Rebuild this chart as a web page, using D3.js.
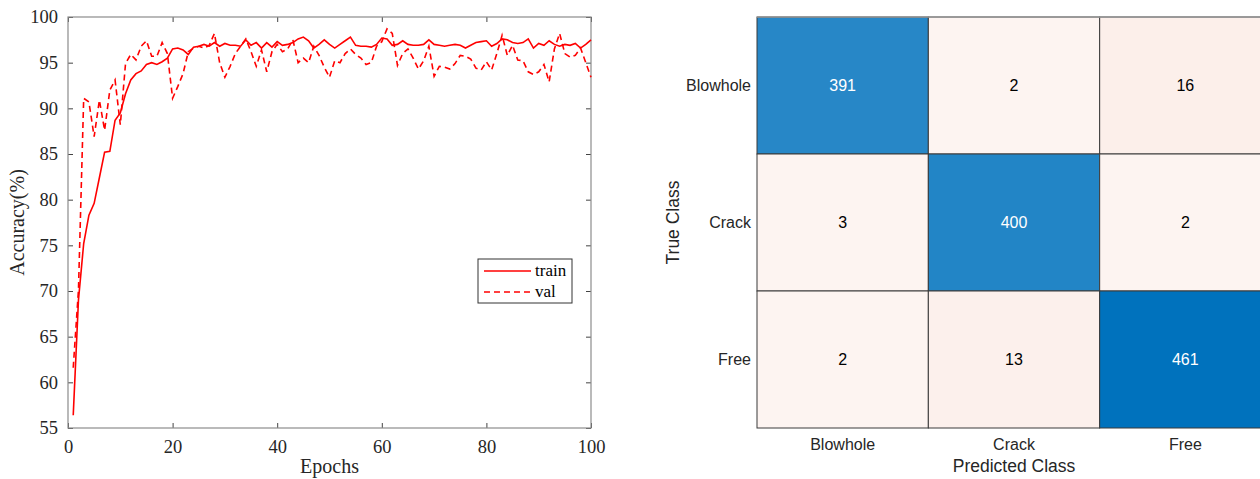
<!DOCTYPE html>
<html>
<head>
<meta charset="utf-8">
<script src="https://cdn.jsdelivr.net/npm/d3@7"></script>
<style>
  body { margin: 0; background: #fff; }
  svg { display: block; }
</style>
</head>
<body>
<svg id="chart" width="1260" height="479"></svg>
<script>
// training curve, epochs 1..100
const trainAcc = [
  56.4, 69.0, 75.2, 78.3, 79.6, 82.4, 85.2, 85.3, 88.7, 89.5,
  91.6, 93.1, 93.8, 94.1, 94.8, 95.0, 94.8, 95.1, 95.5, 96.5,
  96.6, 96.4, 95.9, 96.7, 96.8, 97.0, 96.8, 97.2, 96.8, 97.1,
  96.9, 96.9, 96.8, 97.5, 96.9, 97.2, 96.6, 97.2, 96.7, 97.3,
  96.9, 97.0, 97.2, 97.6, 97.8, 97.4, 96.6, 97.0, 97.5, 97.0,
  96.6, 97.0, 97.4, 97.8, 96.9, 96.8, 96.8, 96.7, 97.0, 97.7,
  97.6, 96.9, 97.0, 97.4, 97.0, 96.9, 96.9, 97.0, 97.5, 97.0,
  96.9, 96.8, 96.9, 97.0, 96.9, 96.6, 96.9, 97.2, 97.3, 97.4,
  96.8, 97.1, 97.6, 97.5, 97.2, 97.1, 97.2, 97.6, 96.6, 97.1,
  96.9, 97.4, 97.0, 96.8, 97.0, 96.9, 97.1, 96.6, 97.0, 97.5
];
const valAcc = [
  61.6, 70.1, 91.1, 90.7, 86.9, 90.9, 87.6, 92.0, 93.1, 88.2,
  94.9, 95.9, 95.3, 96.8, 97.4, 95.7, 95.7, 97.2, 96.0, 91.1,
  92.4, 93.8, 96.2, 96.6, 96.8, 96.6, 96.9, 98.2, 95.0, 93.4,
  94.6, 96.0, 96.8, 97.6, 96.2, 94.6, 96.4, 94.0, 96.2, 97.0,
  96.2, 96.5, 97.5, 95.0, 95.5, 95.0, 96.8, 95.8, 94.5, 93.4,
  95.2, 95.0, 96.0, 96.5, 95.9, 95.5, 94.8, 95.0, 96.8, 97.3,
  98.7, 98.2, 94.7, 96.0, 96.5, 95.5, 94.3, 95.2, 96.8, 93.5,
  94.6, 94.5, 94.3, 94.9, 95.8, 95.7, 95.4, 94.4, 94.2, 95.1,
  94.2, 96.0, 98.0, 95.8, 96.9, 95.3, 95.2, 94.0, 93.7, 94.0,
  94.8, 92.9, 96.5, 98.2, 96.0, 95.6, 95.8, 96.6, 95.0, 93.4
];
const xTicks = [0, 20, 40, 60, 80, 100];
const yTicks = [55, 60, 65, 70, 75, 80, 85, 90, 95, 100];

// confusion matrix
const classes = ["Blowhole", "Crack", "Free"];
const counts = [
  [391, 2, 16],
  [3, 400, 2],
  [2, 13, 461]
];

const svg = d3.select("#chart");

// ---------- left: accuracy curves ----------
const L = { left: 68, right: 591, top: 17, bottom: 428 };
const x = d3.scaleLinear().domain([0, 100]).range([L.left, L.right]);
const y = d3.scaleLinear().domain([55, 100]).range([L.bottom, L.top]);
const serif = "'Liberation Serif', 'Times New Roman', serif";

const left = svg.append("g");

function styleAxis(sel, showLabels) {
  sel.select(".domain").remove();
  sel.selectAll(".tick line").attr("stroke", "#444");
  sel.selectAll(".tick text")
    .attr("font-family", serif)
    .attr("font-size", 18.5)
    .attr("fill", "#262626");
  if (!showLabels) sel.selectAll(".tick text").remove();
}

left.append("g")
  .attr("transform", `translate(0,${L.bottom})`)
  .call(d3.axisBottom(x).tickValues(xTicks).tickSizeInner(-5).tickPadding(12))
  .call(s => styleAxis(s, true));
left.append("g")
  .attr("transform", `translate(0,${L.top})`)
  .call(d3.axisTop(x).tickValues(xTicks).tickSizeInner(-5))
  .call(s => styleAxis(s, false));
left.append("g")
  .attr("transform", `translate(${L.left},0)`)
  .call(d3.axisLeft(y).tickValues(yTicks).tickSizeInner(-5).tickPadding(10))
  .call(s => styleAxis(s, true));
left.append("g")
  .attr("transform", `translate(${L.right},0)`)
  .call(d3.axisRight(y).tickValues(yTicks).tickSizeInner(-5))
  .call(s => styleAxis(s, false));

left.append("rect")
  .attr("x", L.left).attr("y", L.top)
  .attr("width", L.right - L.left).attr("height", L.bottom - L.top)
  .attr("fill", "none").attr("stroke", "#8c8c8c").attr("stroke-width", 1.2);

const line = d3.line()
  .x((d, i) => x(i + 1))
  .y(d => y(d));

left.append("path")
  .datum(valAcc)
  .attr("d", line)
  .attr("fill", "none")
  .attr("stroke", "#ff0000")
  .attr("stroke-width", 1.6)
  .attr("stroke-dasharray", "6,4");

left.append("path")
  .datum(trainAcc)
  .attr("d", line)
  .attr("fill", "none")
  .attr("stroke", "#ff0000")
  .attr("stroke-width", 1.6);

left.append("text")
  .attr("transform", `translate(24,${(L.top + L.bottom) / 2}) rotate(-90)`)
  .attr("text-anchor", "middle")
  .attr("font-family", serif)
  .attr("font-size", 20)
  .attr("fill", "#262626")
  .text("Accuracy(%)");

left.append("text")
  .attr("x", (L.left + L.right) / 2)
  .attr("y", 473)
  .attr("text-anchor", "middle")
  .attr("font-family", serif)
  .attr("font-size", 20)
  .attr("fill", "#262626")
  .text("Epochs");

// legend
const lg = left.append("g").attr("transform", "translate(478,259)");
lg.append("rect")
  .attr("width", 94).attr("height", 44)
  .attr("fill", "#fff").attr("stroke", "#333").attr("stroke-width", 1);
[["train", null], ["val", "6,4"]].forEach(([name, dash], i) => {
  const yy = 12 + i * 21;
  lg.append("line")
    .attr("x1", 6).attr("x2", 53).attr("y1", yy).attr("y2", yy)
    .attr("stroke", "#ff0000").attr("stroke-width", 1.6)
    .attr("stroke-dasharray", dash);
  lg.append("text")
    .attr("x", 57).attr("y", yy + 5)
    .attr("font-family", serif).attr("font-size", 17)
    .attr("fill", "#000")
    .text(name);
});

// ---------- right: confusion matrix ----------
const R = { left: 757, right: 1271, top: 17, bottom: 428 };
const cx = d3.scaleBand().domain(classes).range([R.left, R.right]);
const cy = d3.scaleBand().domain(classes).range([R.top, R.bottom]);
const maxCount = d3.max(counts.flat());
const diagColor = d3.interpolateRgb("#ffffff", "#0072bd");
const offColor = d3.interpolateRgb("#fdf5f2", "#d95319");
const sans = "'Liberation Sans', Arial, Helvetica, sans-serif";

const cells = [];
counts.forEach((row, i) => row.forEach((v, j) => cells.push({ t: classes[i], p: classes[j], v, diag: i === j })));

const right = svg.append("g");
right.selectAll("rect.cell")
  .data(cells)
  .enter()
  .append("rect")
  .attr("class", "cell")
  .attr("x", d => cx(d.p))
  .attr("y", d => cy(d.t))
  .attr("width", cx.bandwidth())
  .attr("height", cy.bandwidth())
  .attr("fill", d => d.diag ? diagColor(d.v / maxCount) : offColor(d.v / maxCount))
  .attr("stroke", "#3a3a3a")
  .attr("stroke-width", 1);

right.selectAll("text.val")
  .data(cells)
  .enter()
  .append("text")
  .attr("class", "val")
  .attr("x", d => cx(d.p) + cx.bandwidth() / 2)
  .attr("y", d => cy(d.t) + cy.bandwidth() / 2)
  .attr("dy", "0.35em")
  .attr("text-anchor", "middle")
  .attr("font-family", sans)
  .attr("font-size", 16)
  .attr("fill", d => d.diag ? "#fff" : "#000")
  .text(d => d.v);

right.append("line")
  .attr("x1", R.left).attr("x2", R.right).attr("y1", R.top).attr("y2", R.top)
  .attr("stroke", "#9a9a9a").attr("stroke-width", 1.5);

const cxAxis = right.append("g")
  .attr("transform", `translate(0,${R.bottom})`)
  .call(d3.axisBottom(cx).tickSize(0).tickPadding(11));
const cyAxis = right.append("g")
  .attr("transform", `translate(${R.left},0)`)
  .call(d3.axisLeft(cy).tickSize(0).tickPadding(6));
[cxAxis, cyAxis].forEach(a => {
  a.select(".domain").remove();
  a.selectAll(".tick text")
    .attr("font-family", sans)
    .attr("font-size", 16)
    .attr("fill", "#262626");
});

right.append("text")
  .attr("x", cx("Crack") + cx.bandwidth() / 2)
  .attr("y", 472)
  .attr("text-anchor", "middle")
  .attr("font-family", sans)
  .attr("font-size", 17.5)
  .attr("fill", "#262626")
  .text("Predicted Class");

right.append("text")
  .attr("transform", `translate(679,${cy("Crack") + cy.bandwidth() / 2}) rotate(-90)`)
  .attr("text-anchor", "middle")
  .attr("font-family", sans)
  .attr("font-size", 17.5)
  .attr("fill", "#262626")
  .text("True Class");
</script>
</body>
</html>
